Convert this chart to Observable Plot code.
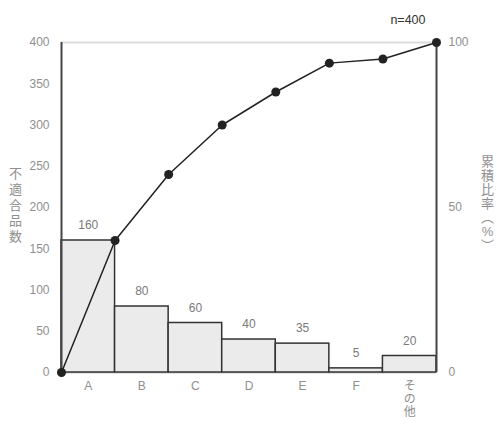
<!DOCTYPE html>
<html>
<head>
<meta charset="utf-8">
<script src="https://cdn.jsdelivr.net/npm/d3@7"></script>
<script src="https://cdn.jsdelivr.net/npm/@observablehq/plot@0.6"></script>
<style>
  body { margin: 0; background: #fff; }
</style>
</head>
<body>
<div id="chart"></div>
<script>
const categories = ["A", "B", "C", "D", "E", "F", "その他"];
const counts = [160, 80, 60, 40, 35, 5, 20];
const countTicks = [0, 50, 100, 150, 200, 250, 300, 350, 400];
const percentTicks = [0, 50, 100];
const yLabelLeft = "不適合品数";
const yLabelRight = "累積比率︵%︶";
const nLabel = "n=400";

const total = d3.sum(counts);
const cum = [0, ...d3.cumsum(counts)];
const bars = categories.map((c, i) => ({c, i, v: counts[i]}));
const linePts = cum.map((v, i) => ({i, v}));

const FONT = '"Liberation Sans", "Noto Sans CJK JP", sans-serif';
const GRAY = "#8f8f8f";

const chart = Plot.plot({
  width: 497,
  height: 425,
  marginLeft: 61,
  marginRight: 61,
  marginTop: 42,
  marginBottom: 53,
  style: {fontFamily: FONT, fontSize: "12px", background: "#fff"},
  x: {domain: [0, categories.length], axis: null},
  y: {domain: [0, total], axis: null},
  marks: [
    Plot.ruleY([total], {stroke: "#dcdcdc", strokeWidth: 2}),
    Plot.ruleY([0], {stroke: "#c8c8c8", strokeWidth: 2}),
    Plot.rectY(bars, {x1: d => d.i, x2: d => d.i + 1, y: "v", fill: "#ebebeb", stroke: "#333", strokeWidth: 1.5}),
    Plot.ruleX([0], {stroke: "#444", strokeWidth: 2}),
    Plot.ruleX([categories.length], {stroke: "#444", strokeWidth: 2}),
    Plot.axisY(countTicks, {anchor: "left", tickSize: 0, tickPadding: 12, fill: GRAY, fontSize: 12, label: null}),
    Plot.axisY(percentTicks.map(p => p * total / 100), {anchor: "right", tickSize: 0, tickPadding: 12, fill: GRAY, fontSize: 12, label: null, tickFormat: d => String(Math.round(d * 100 / total))}),
    Plot.text(bars, {x: d => d.i + 0.5, y: "v", text: d => String(d.v), dy: -15, fill: "#7a7a7a", fontSize: 12}),
    Plot.text(bars, {x: d => d.i + 0.5, y: 0, text: d => d.c.split("").join("\n"), lineAnchor: "top", dy: 9, lineHeight: 1.05, fill: GRAY, fontSize: 12}),
    Plot.line(linePts, {x: "i", y: "v", stroke: "#222", strokeWidth: 1.5}),
    Plot.dot(linePts, {x: "i", y: "v", r: 4.5, fill: "#222", stroke: "none"}),
    Plot.text([yLabelLeft], {frameAnchor: "left", textAnchor: "middle", dx: -46, dy: -3, text: d => d.split("").join("\n"), lineHeight: 1.2, fill: GRAY, fontSize: 13}),
    Plot.text([yLabelRight], {frameAnchor: "right", textAnchor: "middle", dx: 51, dy: -4, text: d => d.split("").join("\n"), lineHeight: 1.08, fill: GRAY, fontSize: 13}),
    Plot.text([nLabel], {frameAnchor: "top-right", dx: -11, dy: -27, textAnchor: "end", text: d => d, fill: "#333", fontSize: 12.5})
  ]
});
document.getElementById("chart").appendChild(chart);
</script>
</body>
</html>
